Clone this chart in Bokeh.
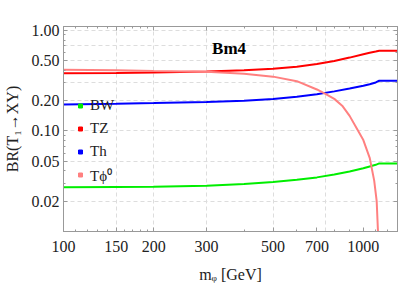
from bokeh.plotting import figure
from bokeh.models import (FixedTicker, LogAxis, PrintfTickFormatter, CustomJSTickFormatter,
                          Legend, LegendItem, Label, ColumnDataSource)
from bokeh.embed import file_html
from bokeh.resources import INLINE

# ---- data ----
mass = [100, 150, 200, 300, 400, 500, 600, 700, 800, 900, 1000, 1050, 1100, 1130, 1300]
br_tz = [0.373, 0.376, 0.380, 0.389, 0.400, 0.415, 0.435, 0.462, 0.495, 0.535, 0.577, 0.597, 0.614, 0.626, 0.626]
br_th = [0.183, 0.186, 0.189, 0.194, 0.199, 0.207, 0.218, 0.231, 0.247, 0.264, 0.281, 0.291, 0.303, 0.315, 0.315]
br_bw = [0.0275, 0.0277, 0.0279, 0.0285, 0.0296, 0.0311, 0.0327, 0.0345, 0.0368, 0.0395, 0.0425, 0.0443, 0.0460, 0.0475, 0.0475]

mass_phi = [100, 150, 200, 300, 400, 500, 600, 700, 750, 800, 850, 900, 950, 1000, 1050, 1087, 1108, 1119, 1125]
br_tphi = [0.406, 0.401, 0.394, 0.387, 0.370, 0.346, 0.312, 0.258, 0.232, 0.208, 0.178, 0.141, 0.106, 0.081, 0.054, 0.032, 0.020, 0.010, 0.004]

series_labels = ["BW", "TZ", "Th", "T\u03d5\u2070"]
series_colors = ["#00ee00", "#ff0000", "#0000ff", "#ff8080"]

x_major = [100, 150, 200, 300, 500, 700, 1000]
x_minor = [110, 120, 130, 140, 160, 170, 180, 190, 400, 600, 800, 900, 1100, 1200, 1300]
y_major = [0.02, 0.05, 0.1, 0.2, 0.5, 1.0]
y_minor = [0.01, 0.03, 0.04, 0.06, 0.07, 0.08, 0.09, 0.3, 0.4, 0.6, 0.7, 0.8, 0.9]
x_grid = [150, 200, 300, 500, 750]
y_grid = [0.02, 0.05, 0.1, 0.2, 0.3, 0.5, 0.7, 1.0]

FONT = "Liberation Serif"
GRAY = "#999999"
LABEL = "#222222"

p = figure(width=399, height=288, x_axis_type="log", y_axis_type="log",
           x_range=(100, 1300), y_range=(0.01, 1.09),
           output_backend="svg", toolbar_location=None,
           min_border_left=62, min_border_right=2, min_border_top=26, min_border_bottom=57)
p.background_fill_color = "white"
p.border_fill_color = "white"
p.outline_line_color = GRAY

xt = FixedTicker(ticks=x_major, minor_ticks=x_minor)
yt = FixedTicker(ticks=y_major, minor_ticks=y_minor)

xa = p.below[0]
ya = p.left[0]

xa.ticker = xt
xa.formatter = PrintfTickFormatter(format="%d")
xa.axis_label = "m\u1d69 [GeV]"
xa.axis_label_standoff = 11
xa.major_label_standoff = 9

ya.ticker = yt
ya.formatter = PrintfTickFormatter(format="%.2f")
ya.axis_label = "BR(T\u2081\u2192XY)"
ya.axis_label_standoff = 8
ya.major_label_standoff = 4

top = LogAxis(ticker=xt, formatter=CustomJSTickFormatter(code="return ''"))
right = LogAxis(ticker=yt, formatter=CustomJSTickFormatter(code="return ''"))
p.add_layout(top, "above")
p.add_layout(right, "right")

for ax in [xa, ya, top, right]:
    ax.axis_line_color = GRAY
    ax.major_tick_line_color = GRAY
    ax.minor_tick_line_color = GRAY
    ax.major_tick_in = 4
    ax.major_tick_out = 0
    ax.minor_tick_in = 2
    ax.minor_tick_out = 0
    ax.major_label_text_font = FONT
    ax.major_label_text_font_size = "16px"
    ax.major_label_text_color = LABEL
    ax.axis_label_text_font = FONT
    ax.axis_label_text_font_size = "16px"
    ax.axis_label_text_font_style = "normal"
    ax.axis_label_text_color = LABEL
top.major_label_standoff = 0
right.major_label_standoff = 0

p.xgrid.ticker = FixedTicker(ticks=x_grid)
p.ygrid.ticker = FixedTicker(ticks=y_grid)
for g in [p.xgrid[0], p.ygrid[0]]:
    g.grid_line_color = "#dddddd"
    g.grid_line_dash = "4 3"
    g.grid_line_width = 1

p.line(mass, br_bw, line_color=series_colors[0], line_width=2)
p.line(mass, br_tz, line_color=series_colors[1], line_width=2)
p.line(mass, br_th, line_color=series_colors[2], line_width=2)
p.line(mass_phi, br_tphi, line_color=series_colors[3], line_width=2)

items = []
for lab, col in zip(series_labels, series_colors):
    src = ColumnDataSource(data=dict(x=[float("nan")], y=[float("nan")]))
    r = p.scatter("x", "y", source=src, marker="square", size=6, fill_color=col, line_color=col)
    items.append(LegendItem(label=lab, renderers=[r]))

legend = Legend(items=items, location=(12, 45), border_line_color=None,
                background_fill_alpha=0, margin=0, padding=0, spacing=0,
                glyph_width=10, glyph_height=23, label_height=23, label_standoff=5,
                label_text_font=FONT, label_text_font_size="15px", label_text_color=LABEL)
p.add_layout(legend, "center")

title = Label(x=313, y=0.654, text="Bm4", text_font=FONT, text_font_size="17px",
              text_font_style="bold", text_baseline="middle", text_align="left",
              text_color="black")
p.add_layout(title)

open("out.html", "w").write(file_html(p, INLINE))
